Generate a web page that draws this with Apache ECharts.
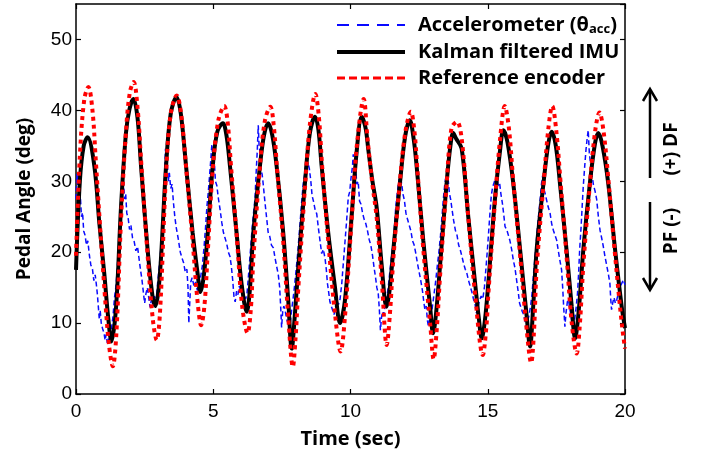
<!DOCTYPE html>
<html lang="en">
<head>
  <meta charset="UTF-8">
  <title>Pedal angle</title>
  <script src="https://cdn.jsdelivr.net/npm/echarts@6/dist/echarts.min.js"></script>
  <style>
    html, body { margin: 0; padding: 0; background: #fff; }
  </style>
</head>
<body>
<div id="main" style="width:704px;height:460px;"></div>
<script type="text/javascript">
  // series names (legend order)
  var seriesNames = ['Accelerometer', 'Kalman filtered IMU', 'Reference encoder'];

  // accelerometer angle, [time (s), angle (deg)]
  var accData = [
    [0,27.5],[0.03,31],[0.06,29.5],[0.09,30.8],[0.12,27],[0.16,27.8],[0.2,25],[0.24,25.6],[0.28,23],[0.33,22.4],
    [0.38,21],[0.43,21.6],[0.49,19.5],[0.54,18.2],[0.6,17.6],[0.65,16],[0.7,16.8],[0.74,15.5],[0.78,14],[0.82,12],
    [0.85,10.5],[0.88,11.8],[0.92,10],[0.97,9.2],[1.02,8.6],[1.06,7.6],[1.1,8.4],[1.14,7.2],[1.18,7.8],[1.22,7.4],[1.26,8.2],
    [1.3,9.5],[1.35,11],[1.4,13.5],[1.45,15],[1.5,17.5],[1.55,20.5],[1.6,24],[1.64,27],[1.67,30.5],[1.7,28.5],
    [1.73,30],[1.77,27.5],[1.81,28.2],[1.85,25.5],[1.9,24.8],[1.95,23.2],[2.0,23.8],[2.06,22],[2.12,21.5],[2.18,20.2],
    [2.24,20.8],[2.3,19],[2.35,17.5],[2.4,16.2],[2.45,14.5],[2.5,12.8],[2.55,14.2],[2.6,15],[2.65,13.6],[2.7,12.2],
    [2.75,13.4],[2.8,12.6],[2.86,13.8],[2.92,13],
    [2.97,15.5],[3.02,17.5],[3.07,19.5],[3.12,22],[3.16,25],[3.2,28.5],[3.23,31],[3.26,34.6],[3.29,31.5],[3.32,33],
    [3.36,30],[3.4,31.2],[3.45,29],[3.5,29.6],[3.55,27],[3.6,25],[3.65,23.5],[3.72,22],[3.8,20],[3.86,19.2],
    [3.92,18.5],[3.98,17.2],[4.04,17.6],[4.08,15],[4.11,10],[4.14,12.5],[4.18,15.8],[4.23,16.4],[4.3,15.2],[4.36,15.8],
    [4.42,14.6],[4.48,15.4],[4.54,16.5],[4.6,18],
    [4.66,20.5],[4.72,23.5],[4.77,26.5],[4.82,28.5],[4.87,31],[4.91,33],[4.95,35.2],[4.99,32.5],[5.03,33.4],[5.08,30],
    [5.13,29.4],[5.19,27.5],[5.25,26],[5.31,24.2],[5.37,22.8],[5.43,22],[5.49,21.2],[5.55,20],[5.61,19.4],[5.66,18],
    [5.71,16],[5.76,13.5],[5.8,13],[5.85,14.5],[5.9,14],[5.95,15.2],[6.0,14.6],[6.06,15.4],[6.12,14],[6.18,13.4],[6.23,14.2],
    [6.28,16.5],[6.33,19],[6.38,21.5],[6.43,24],[6.48,26],[6.52,27.5],[6.56,31],[6.6,34],[6.64,37.9],[6.67,35],
    [6.7,34.2],[6.74,31.5],[6.78,31],[6.82,29.6],[6.88,27.2],[6.94,25],[7.0,22.8],[7.06,22.2],[7.12,21],[7.19,20.6],
    [7.25,19.2],[7.31,18],[7.37,16.8],[7.42,15],[7.46,12],[7.49,9.4],[7.53,11.6],[7.57,12.4],[7.62,11.8],[7.67,10.6],
    [7.72,10],[7.77,9.2],[7.81,10.2],
    [7.86,12],[7.91,13.5],[7.96,15.2],[8.02,17.5],[8.08,20],[8.13,22.5],[8.18,25],[8.23,27.5],[8.28,29.7],[8.33,31],
    [8.37,32.5],[8.41,31.6],[8.45,32.6],[8.5,31.8],[8.55,30.2],[8.6,28],[8.65,27.2],[8.71,26],[8.77,25.4],[8.83,23.4],
    [8.89,21.6],[8.95,19.8],[9.01,20.4],[9.07,19.2],[9.12,17.5],[9.16,15.6],[9.2,14.5],[9.25,13],[9.3,12.4],[9.35,11.8],
    [9.4,11.2],[9.44,12],[9.5,13.2],[9.56,12.6],[9.62,13.4],
    [9.68,15.5],[9.74,18.5],[9.8,21.5],[9.86,24.5],[9.92,27.8],[9.97,28.5],[10.02,30.5],[10.07,32],[10.1,33.8],[10.14,31.5],
    [10.18,32.2],[10.23,29.6],[10.28,30],[10.33,27.2],[10.38,26.8],[10.44,25.5],[10.5,24.6],[10.56,24],[10.62,23],[10.68,21.8],
    [10.74,21],[10.8,19.6],[10.86,17.8],[10.91,16.5],[10.96,15],[11.01,14.2],[11.05,12],[11.09,9.0],[11.13,10.8],[11.17,11.6],
    [11.21,11.2],[11.26,12.4],[11.32,13.6],
    [11.38,15.2],[11.44,17.5],[11.5,19.6],[11.56,21.4],[11.61,24],[11.65,26.5],[11.69,27.8],[11.73,29.2],[11.77,30.3],[11.81,29.4],
    [11.86,29.8],[11.91,28.2],[11.96,27.4],[12.02,25.5],[12.08,24.6],[12.14,23.8],[12.2,23],[12.26,21.6],[12.32,21],[12.38,19.8],
    [12.44,18.4],[12.5,17.2],[12.56,16],[12.62,14.6],[12.67,13],[12.71,11.9],[12.76,12.4],[12.8,10.4],[12.84,9.5],[12.88,10.6],
    [12.93,11.2],[12.98,12.2],
    [13.04,14],[13.1,15.8],[13.16,18],[13.22,20],[13.28,22.4],[13.33,24.8],[13.38,27.4],[13.43,29.4],[13.48,30.8],[13.52,29.8],
    [13.56,30.2],[13.6,28.4],[13.65,27.4],[13.7,26],[13.76,24.4],[13.82,23.1],[13.88,22.4],[13.94,21],[14.0,20.3],[14.06,19.4],
    [14.12,18.4],[14.18,17.6],[14.24,17],[14.3,16],[14.36,15.2],[14.42,14.4],[14.48,13.4],[14.54,12.6],[14.59,11.4],[14.64,12.2],
    [14.7,13.2],[14.76,13.8],[14.82,13.4],
    [14.88,15.1],[14.94,18],[14.99,20.5],[15.03,22.7],[15.08,25.5],[15.13,28],[15.18,29.2],[15.23,29.8],[15.28,30.4],[15.33,30.7],
    [15.38,29.4],[15.43,29.8],[15.48,28.2],[15.53,27],[15.58,25.4],[15.63,23.6],[15.69,23.2],[15.75,23],[15.81,21.6],[15.87,20.4],
    [15.93,18.9],[15.99,17.8],[16.05,16.1],[16.11,14.4],[16.16,12.8],[16.21,12.2],[16.26,11.6],[16.31,11.2],[16.36,10.2],[16.41,9.5],
    [16.46,10.4],[16.51,11.2],[16.56,12.4],
    [16.61,14],[16.66,16.5],[16.71,18.8],[16.76,21],[16.81,23.5],[16.86,25.5],[16.91,27.5],[16.96,29.7],[17.0,30.8],[17.04,29],
    [17.09,28.3],[17.14,27.4],[17.2,26.4],[17.27,25.5],[17.33,24],[17.39,23.1],[17.45,22.4],[17.51,21.7],[17.57,20.2],[17.63,18.8],
    [17.69,17.5],[17.73,15],[17.77,12],[17.81,9.5],[17.85,11.4],[17.9,13],[17.94,13.3],[17.99,12],[18.04,10.8],[18.08,9.8],
    [18.12,9.0],[18.17,10.6],[18.22,12.2],
    [18.27,14.2],[18.31,17],[18.35,20.5],[18.4,23.5],[18.44,26.5],[18.48,29.3],[18.53,32],[18.58,34.5],[18.62,36],[18.66,37.2],
    [18.7,34],[18.74,32.6],[18.79,31.1],[18.85,29.5],[18.91,28.6],[18.97,27.4],[19.03,25],[19.09,23.1],[19.15,22],[19.21,20.8],
    [19.27,19.4],[19.33,18.2],[19.39,17],[19.45,15.6],[19.48,13.4],[19.51,11.9],[19.55,12.8],[19.6,13.6],[19.65,12.8],[19.7,13.3],
    [19.76,14.2],[19.82,15.1],[19.88,15.6],[19.94,16.1],[20.0,15.4]
  ];

  // kalman filtered IMU angle
  var kalmanData = [
    [0,17.5],[0.14,30],[0.28,35],[0.42,36.2],
    [0.67,32.1],[0.85,24.1],[1.03,17],[1.18,10.5],[1.29,7.4],
    [1.46,12.3],[1.64,26.4],[1.82,36.8],[1.95,40.2],[2.09,41.6],
    [2.24,39],[2.37,32.1],[2.61,20.3],[2.78,14],[2.89,12.4],
    [3.0,14.5],[3.1,19.4],[3.28,32.1],[3.45,39.5],[3.66,41.9],
    [3.82,39.5],[4.01,32.1],[4.25,22.7],[4.43,17],[4.53,14.4],
    [4.65,16.5],[4.8,22.7],[4.98,32.1],[5.15,37],[5.35,38.2],
    [5.48,36.5],[5.61,32.1],[5.85,22.7],[6.03,15.6],[6.22,11.6],
    [6.33,14.5],[6.46,22.7],[6.7,32.1],[6.85,36.5],[7.0,38.2],
    [7.15,36.5],[7.31,32.1],[7.55,22.7],[7.73,13.3],[7.86,6.4],
    [7.97,11],[8.1,18],[8.34,29.7],[8.52,36.8],[8.71,39.1],
    [8.83,37.3],[8.95,32.1],[9.19,22.7],[9.43,15.2],[9.62,10],
    [9.8,13.3],[10.04,25],[10.23,34.4],[10.41,39.1],
    [10.55,37.5],[10.65,34.4],[10.8,30],[10.95,26.4],[11.14,18],[11.31,12.3],
    [11.42,14.5],[11.56,20.3],[11.8,29.7],[11.99,36.3],[12.16,38.6],
    [12.3,36],[12.41,32.1],[12.65,21.7],[12.9,12.3],[13.01,8.55],
    [13.12,11.5],[13.26,18],[13.5,29.7],[13.64,35],[13.74,36.8],
    [13.85,36],[14.05,34.6],[14.29,25],[14.54,15.6],[14.68,10.5],[14.78,7.85],
    [14.9,10.5],[15.02,15.6],[15.26,27.4],[15.45,34.4],[15.57,37.2],
    [15.72,35.5],[15.93,29.7],[16.18,20.3],[16.42,10.9],[16.54,6.7],
    [16.65,12],[16.78,20.3],[17.03,29.7],[17.21,35.4],[17.33,37],
    [17.48,35],[17.63,29.7],[17.87,20.3],[18.06,12.3],[18.18,7.85],
    [18.32,12],[18.48,20.3],[18.72,29.7],[18.91,35.4],[19.03,36.8],
    [19.18,35],[19.39,29.7],[19.64,20.3],[19.88,12.3],[20,9.3]
  ];

  // reference encoder angle
  var encoderData = [
    [0,19.5],[0.14,33.5],[0.3,41.5],[0.45,43.3],
    [0.6,40],[0.72,33],[0.88,23.5],[1.05,14],[1.2,7],[1.34,3.9],
    [1.47,8.5],[1.64,24.5],[1.82,37],[1.96,42.5],[2.1,44],
    [2.24,40.5],[2.37,33],[2.61,19.5],[2.8,10.5],[2.94,7.6],
    [3.06,11.5],[3.28,31],[3.45,39.5],[3.67,42.1],
    [3.83,39.5],[4.01,32],[4.25,21.5],[4.43,13],[4.56,9.7],
    [4.68,12.5],[4.8,20],[4.98,31.5],[5.18,38.5],[5.4,40.6],
    [5.52,38.5],[5.65,32],[5.87,21.5],[6.05,12.5],[6.25,8.6],
    [6.37,12],[6.46,19],[6.7,32],[6.88,38.5],[7.08,40.5],
    [7.2,38],[7.33,31.5],[7.55,21.5],[7.73,11],[7.9,3.85],
    [8.0,8],[8.1,15],[8.34,29],[8.52,38],[8.72,42.3],
    [8.85,39],[8.97,32],[9.19,21.5],[9.43,11.5],[9.64,6],
    [9.8,11],[10.04,24.5],[10.23,35],[10.48,41.6],
    [10.62,36],[10.8,29.5],[10.95,25],[11.14,16],[11.32,6.9],
    [11.44,11.5],[11.56,19],[11.8,30],[12.0,37],[12.2,39.8],
    [12.33,37],[12.43,32],[12.65,20.5],[12.9,10],[13.03,4.9],
    [13.14,9],[13.26,16.5],[13.5,29.5],[13.68,37.5],[13.88,38.4],
    [14.05,36],[14.29,25],[14.54,14],[14.82,5.5],
    [14.95,9.5],[15.02,14],[15.26,27],[15.45,36],[15.62,40.6],
    [15.77,37.5],[15.93,30],[16.18,19.5],[16.42,9],[16.58,4.4],
    [16.68,8.5],[16.78,17.5],[17.03,29.5],[17.21,37.5],[17.35,40.6],
    [17.5,37],[17.65,30],[17.87,19.5],[18.06,10],[18.24,5.7],
    [18.35,9.5],[18.48,18],[18.72,29.5],[18.91,37],[19.07,39.7],
    [19.22,37],[19.4,30],[19.64,19.5],[19.88,10],[20,6.4]
  ];

  var labelFont = "'Liberation Sans', Arial, sans-serif";
  var boldFont = "'Open Sans', Lato, sans-serif";

  var myChart = echarts.init(document.getElementById('main'));

  var axisLine = { show: true, onZero: false, lineStyle: { color: '#000', width: 1.5 } };
  var tick = { show: true, inside: true, length: 5, lineStyle: { color: '#000', width: 1.2 } };

  var option = {
    animation: false,
    backgroundColor: '#fff',
    grid: { left: 76, right: 79, top: 4, bottom: 66 },
    legend: {
      orient: 'vertical',
      left: 330,
      top: 10,
      itemWidth: 68,
      itemHeight: 14,
      itemGap: 6,
      itemStyle: { opacity: 0 },
      data: [
        { name: seriesNames[0], lineStyle: { type: [12, 8], width: 2 } },
        { name: seriesNames[1], lineStyle: { width: 4 } },
        { name: seriesNames[2], lineStyle: { type: [8, 4], width: 3 } }
      ],
      formatter: function (name) {
        if (name === seriesNames[0]) return name + ' (\u03b8{sub|acc})';
        return name;
      },
      textStyle: {
        fontFamily: boldFont,
        fontWeight: 'bold',
        fontSize: 20,
        color: '#000',
        padding: [0, 0, 0, 8],
        rich: {
          sub: { fontFamily: boldFont, fontWeight: 'bold', fontSize: 13, color: '#000', verticalAlign: 'bottom', padding: [9, 0, 0, 0] }
        }
      }
    },
    xAxis: [{
      type: 'value', min: 0, max: 20, interval: 5,
      name: 'Time (sec)', nameLocation: 'middle', nameGap: 35,
      nameTextStyle: { fontFamily: boldFont, fontWeight: 'bold', fontSize: 20, color: '#000' },
      axisLine: axisLine, axisTick: tick, splitLine: { show: false },
      axisLabel: { fontFamily: labelFont, fontSize: 19, color: '#000', margin: 8 }
    }, {
      type: 'value', min: 0, max: 20, interval: 5, position: 'top',
      axisLine: axisLine, axisTick: tick, splitLine: { show: false }, axisLabel: { show: false }
    }],
    yAxis: [{
      type: 'value', min: 0, max: 55, interval: 10,
      name: 'Pedal Angle (deg)', nameLocation: 'middle', nameGap: 42, nameRotate: 90,
      nameTextStyle: { fontFamily: boldFont, fontWeight: 'bold', fontSize: 19, color: '#000' },
      axisLine: axisLine, axisTick: tick, splitLine: { show: false },
      axisLabel: { fontFamily: labelFont, fontSize: 19, color: '#000', margin: 4, showMaxLabel: false }
    }, {
      type: 'value', min: 0, max: 55, interval: 10, position: 'right',
      axisLine: axisLine, axisTick: tick, splitLine: { show: false }, axisLabel: { show: false }
    }],
    series: [{
      name: seriesNames[0], type: 'line', data: accData, showSymbol: false, symbol: 'none',
      lineStyle: { color: '#0a0aff', width: 1.5, type: [5, 3] }, itemStyle: { color: '#0a0aff' }
    }, {
      name: seriesNames[1], type: 'line', data: kalmanData, showSymbol: false, symbol: 'none', smooth: 0.35,
      lineStyle: { color: '#000', width: 4 }, itemStyle: { color: '#000' }
    }, {
      name: seriesNames[2], type: 'line', data: encoderData, showSymbol: false, symbol: 'none', smooth: 0.35,
      lineStyle: { color: '#ff0000', width: 4, type: [4, 4] }, itemStyle: { color: '#ff0000' }
    }],
    graphic: [
      // DF arrow (up)
      { type: 'line', shape: { x1: 650, y1: 178, x2: 650, y2: 91 }, style: { stroke: '#000', lineWidth: 2.5 } },
      { type: 'polyline', shape: { points: [[643, 101], [650, 89], [657, 101]] }, style: { stroke: '#000', lineWidth: 2.5, fill: null } },
      // PF arrow (down)
      { type: 'line', shape: { x1: 650, y1: 202, x2: 650, y2: 288 }, style: { stroke: '#000', lineWidth: 2.5 } },
      { type: 'polyline', shape: { points: [[643, 278], [650, 290], [657, 278]] }, style: { stroke: '#000', lineWidth: 2.5, fill: null } },
      { type: 'text', x: 672, y: 149, rotation: Math.PI / 2,
        style: { text: '(+) DF', font: "bold 19px 'Open Sans', Lato, sans-serif", fill: '#000', align: 'center', verticalAlign: 'middle' } },
      { type: 'text', x: 672, y: 231, rotation: Math.PI / 2,
        style: { text: 'PF (-)', font: "bold 19px 'Open Sans', Lato, sans-serif", fill: '#000', align: 'center', verticalAlign: 'middle' } }
    ]
  };

  myChart.setOption(option);
</script>
</body>
</html>
